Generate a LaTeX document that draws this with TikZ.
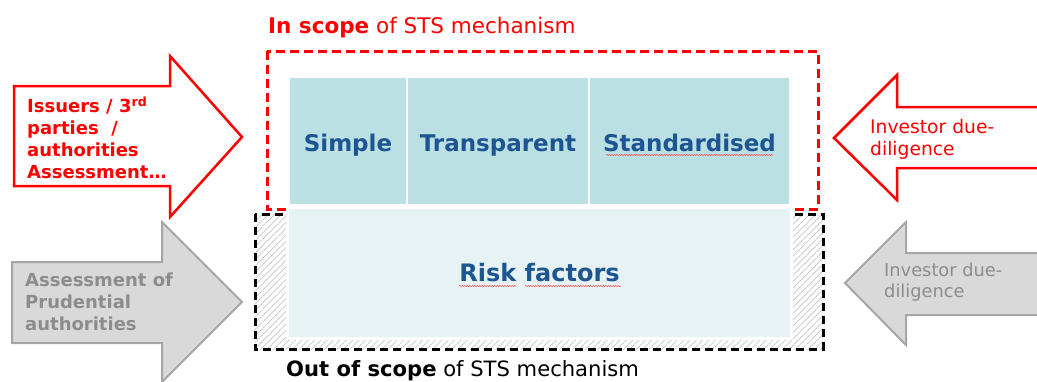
\documentclass[tikz,border=0pt]{standalone}
\usepackage{fontspec}
\setmainfont{DejaVu Sans}
\usetikzlibrary{patterns.meta,decorations.pathmorphing}

\definecolor{stsred}{HTML}{FF0000}
\definecolor{stsblue}{HTML}{1D5592}
\definecolor{cellteal}{HTML}{BAE0E3}
\definecolor{risklight}{HTML}{E6F2F4}
\definecolor{arrowgray}{HTML}{D9D9D9}
\definecolor{edgegray}{HTML}{A6A6A6}
\definecolor{textgray}{HTML}{8C8C8C}

\begin{document}
\begin{tikzpicture}[x=1pt, y=-1pt,
	cell/.style={draw=white, line width=1.5pt, fill=cellteal, text=stsblue, inner sep=0pt, outer sep=0pt,
		minimum height=128pt, text height=24pt, text depth=4pt, font=\fontsize{23}{27}\selectfont\bfseries},
	squiggle/.style={draw=red!75, line width=0.5pt, decorate, decoration={snake, amplitude=0.6pt, segment length=2.5pt}},
	redarrow/.style={draw=stsred, line width=2.5pt, fill=white, line join=miter},
	grayarrow/.style={draw=edgegray, line width=2pt, fill=arrowgray, line join=miter},
	boxtext/.style={anchor=west, inner sep=0pt, align=left}]
	\useasboundingbox (0,0) rectangle (1037,381);

	% Scope boxes
	\draw[black, line width=3pt, dash pattern=on 8pt off 5pt,
		pattern={Lines[angle=45, distance=4.5pt, line width=0.7pt]}, pattern color=gray!45]
		(255,214) rectangle (823,349);
	\draw[stsred, line width=3pt, dash pattern=on 9pt off 5pt] (267,51) rectangle (818,209);

	% The three STS cells and the risk factors
	\node[cell, minimum width=118pt] (simple) at (348,141) {Simple};
	\node[cell, minimum width=182pt] (transp) at (498,141) {Transparent};
	\node[cell, minimum width=201pt] (stand) at (689.5,141) {Standardised};
	\node[draw=white, line width=3pt, fill=risklight, text=stsblue, inner sep=0pt, outer sep=0pt,
		minimum width=504pt, minimum height=131pt, font=\fontsize{24}{28}\selectfont\bfseries] (risk) at (539.5,272.5) {Risk factors};
	\draw[squiggle] (606,155) -- (773,155);
	\draw[squiggle] (459,286) -- (516,286);
	\draw[squiggle] (525,286) -- (621,286);

	% Captions
	\node[boxtext, anchor=base west, text=stsred, font=\fontsize{21.5}{26}\selectfont] (inscope) at (268,33) {\textbf{In scope} of STS mechanism};
	\node[boxtext, anchor=base west, font=\fontsize{21.1}{26}\selectfont] (outscope) at (286,376) {\textbf{Out of scope} of STS mechanism};

	% Left arrows
	\draw[redarrow] (14,86) -- (170,86) -- (170,56) -- (242,137) -- (170,217) -- (170,186) -- (14,186) -- cycle;
	\node[boxtext, text=stsred, font=\fontsize{18}{22}\selectfont\bfseries] (issuers) at (27,138)
		{Issuers / 3\textsuperscript{rd}\\parties~ /\\authorities\\Assessment…};
	\draw[grayarrow] (12,262) -- (162,262) -- (162,222) -- (242,302) -- (162,382) -- (162,343) -- (12,343) -- cycle;
	\node[boxtext, text=textgray, font=\fontsize{18}{22}\selectfont\bfseries] (prudential) at (25,302)
		{Assessment of\\Prudential\\authorities};

	% Right arrows
	\draw[redarrow] (1045,107) -- (897,107) -- (897,75) -- (834,138) -- (897,200) -- (897,168) -- (1045,168) -- cycle;
	\node[boxtext, text=stsred, font=\fontsize{18.7}{22}\selectfont] (investor) at (870,139)
		{Investor due-\\diligence};
	\draw[grayarrow] (1045,253) -- (906,253) -- (906,222) -- (845,283) -- (906,345) -- (906,315) -- (1045,315) -- cycle;
	\node[boxtext, text=textgray, font=\fontsize{17.8}{21.5}\selectfont] (investorgray) at (884,282)
		{Investor due-\\diligence};
\end{tikzpicture}
\end{document}
